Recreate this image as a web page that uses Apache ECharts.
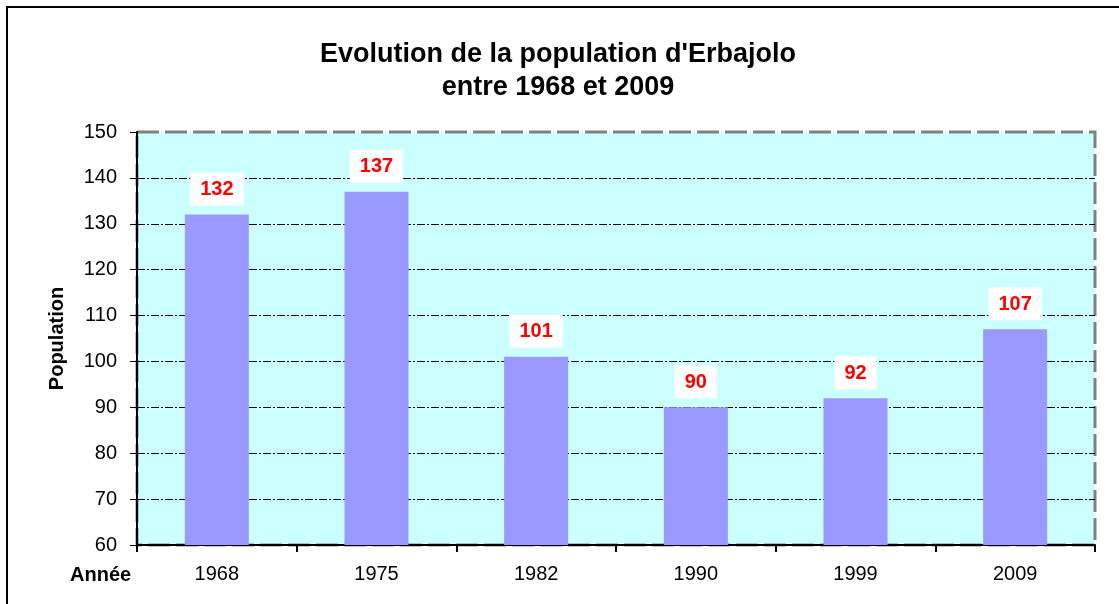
<!DOCTYPE html>
<html>
<head>
<meta charset="utf-8">
<script src="https://cdn.jsdelivr.net/npm/echarts@6/dist/echarts.min.js"></script>
<style>html,body{margin:0;padding:0;background:#fff}#c{width:1119px;height:604px}</style>
</head>
<body>
<div id="c"></div>
<script>
const categories = ['1968', '1975', '1982', '1990', '1999', '2009'];
const population = [132, 137, 101, 90, 92, 107];
const yTicks = { min: 60, max: 150, interval: 10 };
const titleLines = ["Evolution de la population d'Erbajolo", 'entre 1968 et 2009'];

const FONT = '"Liberation Sans", Arial, sans-serif';
const chart = echarts.init(document.getElementById('c'), null, { renderer: 'canvas' });
chart.setOption({
  animation: false,
  backgroundColor: '#fff',
  title: {
    text: titleLines.join('\n'),
    left: 553, textAlign: 'center', top: 33,
    textStyle: { fontFamily: FONT, fontSize: 27, fontWeight: 'bold', color: '#000', lineHeight: 33 }
  },
  graphic: [
    { type: 'rect', shape: { x: 7, y: 7, width: 1130, height: 620 }, style: { fill: null, stroke: '#000', lineWidth: 2 }, silent: true, z: 100 },
    { type: 'text', left: 70, top: 565, style: { text: 'Année', font: 'bold 20px ' + FONT, fill: '#000' } }
  ],
  grid: {
    left: 137, top: 132, right: 24, bottom: 59,
    show: true, backgroundColor: '#ccffff',
    borderColor: '#808080', borderWidth: 3, borderType: [22, 6]
  },
  xAxis: {
    type: 'category', data: categories,
    axisLine: { lineStyle: { color: '#000', width: 2 } },
    axisTick: { show: true, length: 7, lineStyle: { color: '#000', width: 2 } },
    axisLabel: { color: '#000', fontFamily: FONT, fontSize: 20, margin: 19 }
  },
  yAxis: {
    type: 'value', min: yTicks.min, max: yTicks.max, interval: yTicks.interval,
    name: 'Population', nameLocation: 'middle', nameRotate: 90, nameGap: 70,
    nameTextStyle: { fontFamily: FONT, fontSize: 20, fontWeight: 'bold', color: '#000' },
    axisLine: { show: true, lineStyle: { color: '#000', width: 2 } },
    axisTick: { show: true, length: 7, lineStyle: { color: '#000', width: 1 } },
    axisLabel: { color: '#000', fontFamily: FONT, fontSize: 20, margin: 20 },
    splitLine: { show: true, showMinLine: false, showMaxLine: false, lineStyle: { color: '#000', width: 1, type: [8, 2, 2, 2] } }
  },
  series: [{
    type: 'bar', data: population, barWidth: 64,
    itemStyle: { color: '#9999ff' },
    label: {
      show: true, position: 'top', distance: 9,
      backgroundColor: '#fff', padding: [7, 10, 6, 10],
      color: '#ff0000', fontFamily: FONT, fontSize: 20, fontWeight: 'bold'
    }
  }]
});
</script>
</body>
</html>
